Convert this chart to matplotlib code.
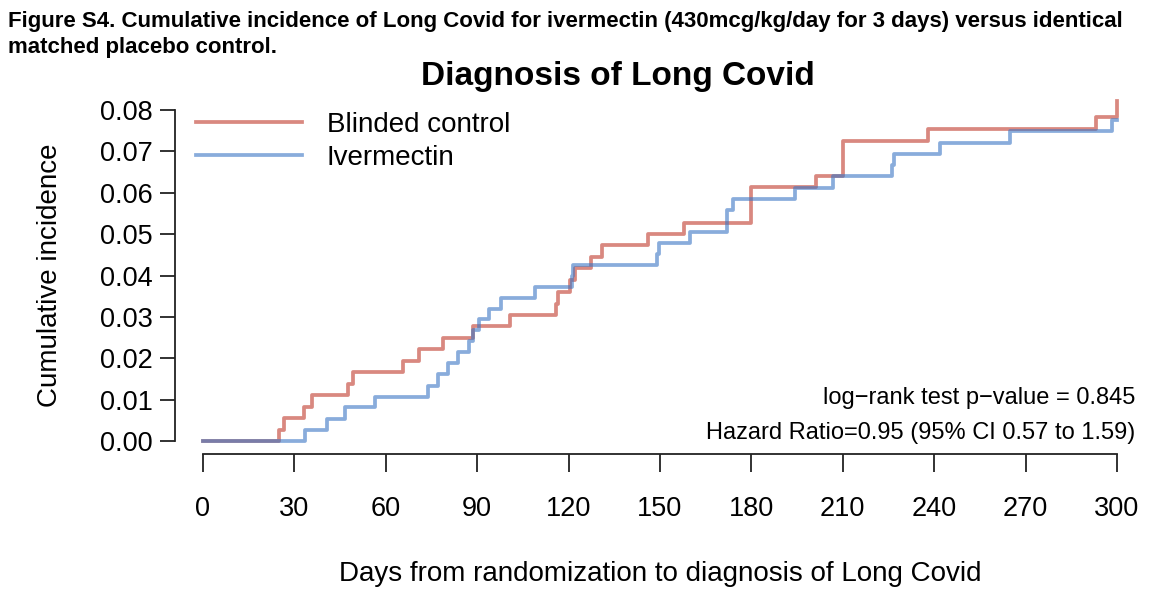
import matplotlib.pyplot as plt

plt.rcParams['font.family'] = ['Liberation Sans', 'DejaVu Sans']

# cumulative incidence (days, value)
control_days = [0, 25, 26.7, 33, 35.7, 47.6, 49.3, 65.7, 71, 78.7, 88.6, 100.8,
                115.9, 116.6, 120.5, 122, 127.3, 131, 146, 158, 180, 201.2, 210,
                238, 293, 300]
control_inc = [0, 0.0027, 0.0055, 0.0082, 0.011, 0.0137, 0.0166, 0.0194, 0.0222,
               0.025, 0.0277, 0.0305, 0.0332, 0.036, 0.0388, 0.0417, 0.0445,
               0.0473, 0.050, 0.0528, 0.0613, 0.0641, 0.0725, 0.0753, 0.0783,
               0.0822]

iver_days = [0, 33.5, 40.6, 46.6, 56.4, 73.8, 77.1, 80.4, 83.7, 87.3, 88.6, 90.6,
             93.9, 97.7, 109, 121, 121.5, 148.9, 149.7, 159.8, 171.9, 174, 194.3,
             206.9, 226, 226.8, 241.9, 264.8, 298.2, 300]
iver_inc = [0, 0.0027, 0.0054, 0.0081, 0.0107, 0.0134, 0.0161, 0.0188, 0.0214,
            0.0241, 0.0268, 0.0294, 0.032, 0.0346, 0.0373, 0.0399, 0.0426, 0.0452,
            0.0479, 0.0506, 0.0559, 0.0586, 0.0612, 0.064, 0.0667, 0.0694, 0.0721,
            0.0749, 0.0777, 0.0777]

x_ticks = [0, 30, 60, 90, 120, 150, 180, 210, 240, 270, 300]
y_ticks = [0.00, 0.01, 0.02, 0.03, 0.04, 0.05, 0.06, 0.07, 0.08]

RED = '#C0392B'
BLUE = '#3A75C4'

fig = plt.figure(figsize=(11.7, 5.97), dpi=100)
ax = fig.add_axes([0.1735, 0.2613, 0.7812, 0.5544])

ax.step(control_days, control_inc, where='post', color=RED, alpha=0.6, lw=2.7,
        clip_on=False, label='Blinded control')
ax.step(iver_days, iver_inc, where='post', color=BLUE, alpha=0.6, lw=2.7,
        clip_on=False, label='Ivermectin')

ax.set_xlim(0, 300)
ax.set_ylim(0, 0.08)
ax.set_xticks(x_ticks)
ax.set_xticklabels([str(t) for t in x_ticks])
ax.set_yticks(y_ticks)
ax.set_yticklabels(['%.2f' % t for t in y_ticks])

for s in ['top', 'right']:
    ax.spines[s].set_visible(False)
ax.spines['left'].set_position(('outward', 20))
ax.spines['bottom'].set_position(('outward', 9.5))
for s in ['left', 'bottom']:
    ax.spines[s].set_linewidth(1.3)
    ax.spines[s].set_color('#222222')
ax.tick_params(axis='y', length=11, width=1.3, color='#222222', labelsize=19.5, pad=5)
ax.tick_params(axis='x', length=13, width=1.3, color='#222222', labelsize=19.5, pad=17)

ax.set_xlabel('Days from randomization to diagnosis of Long Covid', fontsize=20, labelpad=28)
ax.set_ylabel('Cumulative incidence', fontsize=20, labelpad=27)

leg = ax.legend(loc='upper left', bbox_to_anchor=(-0.035, 1.07), frameon=False,
                fontsize=20, handlelength=3.8, handletextpad=0.9, labelspacing=0.25)
for h in leg.get_lines():
    h.set_linewidth(2.7)

ax.text(1.02, 0.13, 'log\u2212rank test p\u2212value = 0.845', transform=ax.transAxes,
        ha='right', va='center', fontsize=17)
ax.text(1.02, 0.025, 'Hazard Ratio=0.95 (95% CI 0.57 to 1.59)', transform=ax.transAxes,
        ha='right', va='center', fontsize=17)

fig.text(0.528, 0.872, 'Diagnosis of Long Covid', ha='center', va='center',
         fontsize=24, fontweight='bold')
fig.text(0.007, 0.982, 'Figure S4. Cumulative incidence of Long Covid for ivermectin '
         '(430mcg/kg/day for 3 days) versus identical\nmatched placebo control.',
         ha='left', va='top', fontsize=16, fontweight='bold', linespacing=1.3)

fig.savefig('out.png', dpi=100)
